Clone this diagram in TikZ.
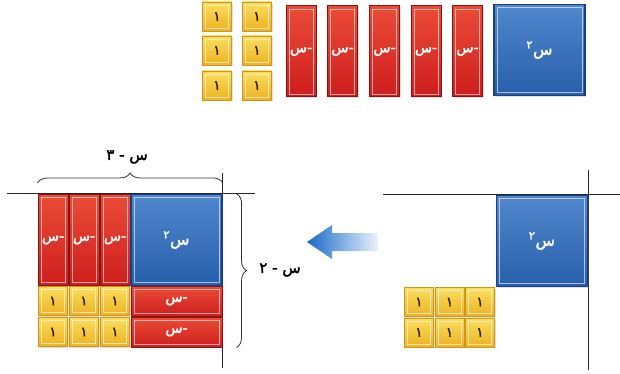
\documentclass[tikz,border=0pt]{standalone}
\usepackage{fontspec}
\newfontfamily\arabicfont[Script=Arabic,FakeBold=2.2]{DejaVu Sans}
\TeXXeTstate=1
\usetikzlibrary{decorations.pathreplacing,shadows}

\definecolor{yelL}{RGB}{252,222,95}
\definecolor{yelM}{RGB}{236,178,35}
\definecolor{yelD}{RGB}{208,150,22}
\definecolor{yelT}{RGB}{50,30,5}
\definecolor{redL}{RGB}{236,75,55}
\definecolor{redM}{RGB}{205,30,30}
\definecolor{redD}{RGB}{140,18,18}
\definecolor{bluL}{RGB}{80,135,205}
\definecolor{bluM}{RGB}{40,95,170}
\definecolor{bluD}{RGB}{22,65,135}
\definecolor{arrblue}{RGB}{25,105,200}

\newcommand{\artxt}[1]{{\arabicfont\beginR #1\endR}}

\tikzset{
  inset/.style={path picture={\draw[white,opacity=.6,line width=.6pt]
    ([shift={(3pt,3pt)}]path picture bounding box.south west) rectangle
    ([shift={(-3pt,-3pt)}]path picture bounding box.north east);}},
  tileshadow/.style={drop shadow={shadow xshift=1.2pt,shadow yshift=-1.2pt,opacity=.25,fill=gray}},
  unit/.style={draw=yelD,line width=.9pt,top color=yelL,bottom color=yelM,
    minimum width=29pt,minimum height=29pt,inner sep=0pt,text=yelT,
    font=\fontsize{13}{15}\selectfont,inset,tileshadow},
  xbar/.style={draw=redD,line width=1pt,top color=redL,bottom color=redM,
    minimum width=30pt,minimum height=91pt,inner sep=0pt,text=white,
    font=\fontsize{14}{16}\selectfont,inset,tileshadow},
  xbarh/.style={xbar,minimum width=91pt,minimum height=30pt},
  xsq/.style={draw=bluD,line width=1.2pt,top color=bluL,bottom color=bluM,
    minimum width=91pt,minimum height=91pt,inner sep=0pt,text=white,
    font=\fontsize{16}{18}\selectfont,inset,tileshadow},
  axis/.style={line width=.8pt,black!85},
  brace/.style={decorate,decoration={brace,amplitude=10pt},line width=.8pt,black!80},
  blabel/.style={font=\fontsize{15}{17}\selectfont,inner sep=1pt},
}

\begin{document}
\begin{tikzpicture}[x=1pt,y=-1pt]
\useasboundingbox (0,0) rectangle (620,374);

% top row: the tiles to use
\foreach \c/\x in {1/217,2/257}
  \foreach \r/\y in {1/16.5,2/50.5,3/85.5}
    \node[unit] (u\c\r) at (\x,\y) {\artxt{١}};
\foreach \i/\x in {1/301,2/342.5,3/384.5,4/426,5/467.5}
  \node[xbar] (x\i) at (\x,51.5) {\artxt{-س}};
\node[xsq] (sq) at (539.5,50) {\artxt{س\textsuperscript{٢}}};

% right: start with the square and the units
\draw[axis] (383,194) -- (620,194);
\draw[axis] (588,170) -- (588,370);
\node[xsq] (rsq) at (542,241) {\artxt{س\textsuperscript{٢}}};
\foreach \c/\x in {1/419,2/449.5,3/480}
  \foreach \r/\y in {1/302,2/332.5}
    \node[unit] (ru\c\r) at (\x,\y) {\artxt{١}};

% arrow
\shade[left color=arrblue,middle color=arrblue!85,right color=arrblue!8]
  (307,242) -- (332,225) -- (332,233) -- (378,233) -- (378,251)
  -- (332,251) -- (332,259) -- cycle;

% left: the completed rectangle
\draw[axis] (7,193) -- (255,193);
\draw[axis] (222,173) -- (222,368);
\foreach \i/\x in {1/53,2/84,3/115}
  \node[xbar] (lb\i) at (\x,240) {\artxt{-س}};
\node[xsq] (lsq) at (176.5,240) {\artxt{س\textsuperscript{٢}}};
\foreach \c/\x in {1/53,2/84,3/115}
  \foreach \r/\y in {1/301,2/332}
    \node[unit] (lu\c\r) at (\x,\y) {\artxt{١}};
\node[xbarh] (lh1) at (176.5,301) {\artxt{-س}};
\node[xbarh] (lh2) at (176.5,332) {\artxt{-س}};

% braces
\draw[brace] ([yshift=11pt]lb1.north west) -- ([yshift=11pt]lsq.north east)
  coordinate[midway] (topmid);
\node[blabel] (wlab) at (127,157) {\artxt{س - ٣}};
\draw[brace] ([xshift=14pt]lsq.north east) -- ([xshift=14pt]lh2.south east)
  coordinate[midway] (rightmid);
\node[blabel] (hlab) at (280,270) {\artxt{س - ٢}};
\end{tikzpicture}
\end{document}
